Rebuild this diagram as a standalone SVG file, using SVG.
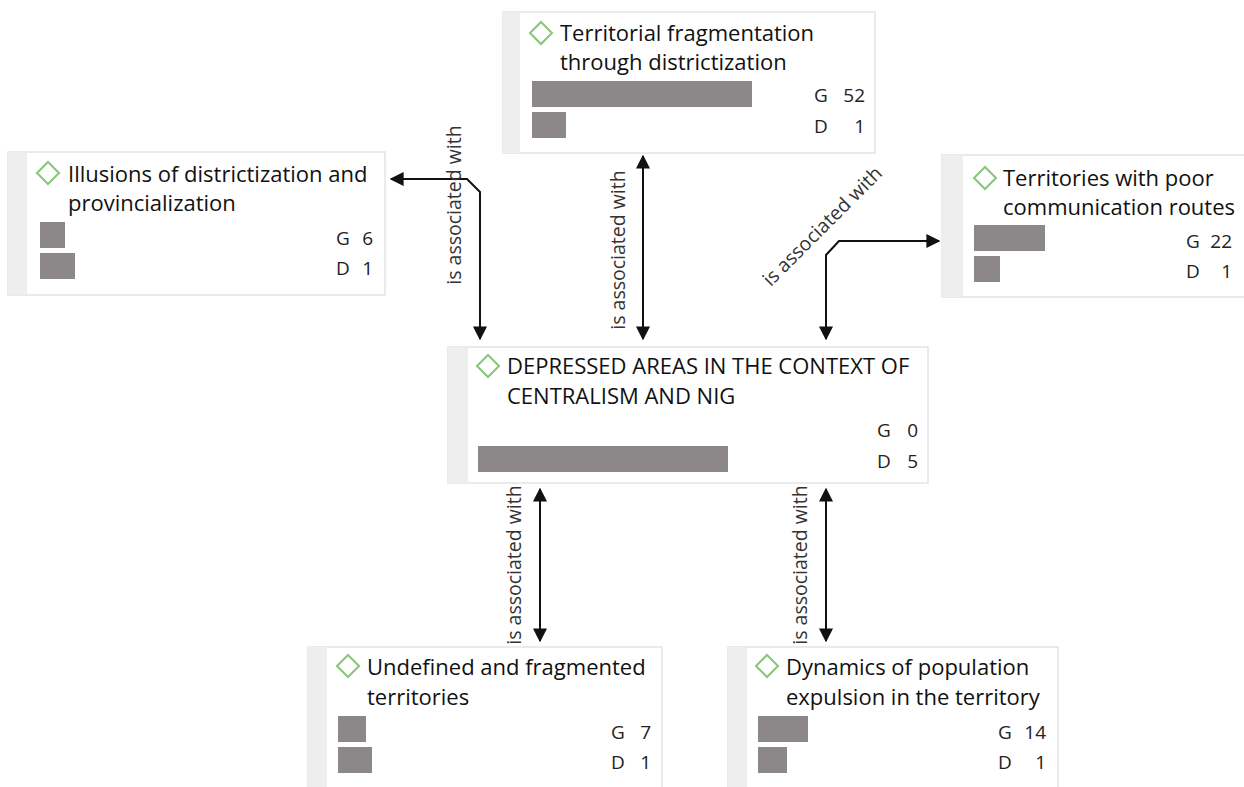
<svg xmlns="http://www.w3.org/2000/svg" width="1244" height="787" viewBox="0 0 1244 787">
<defs>
<style>
.box{fill:#ffffff;stroke:#e4e4e4;stroke-width:1.5}
.strip{fill:#eeeeee}
.dia{fill:none;stroke:#86c777;stroke-width:2}
.t{font-family:"Open Sans","Noto Sans",sans-serif;font-size:22px;fill:#111111}
.n{font-family:"Open Sans","Noto Sans",sans-serif;font-size:19px;fill:#222222}
.bar{fill:#8c8889}
.lbl{font-family:"Open Sans","Noto Sans",sans-serif;font-size:19.5px;fill:#333333;text-anchor:middle}
.con{fill:none;stroke:#111111;stroke-width:2}
</style>
<marker id="ah" viewBox="0 0 10 10" refX="9" refY="5" markerWidth="7" markerHeight="7" markerUnits="strokeWidth" orient="auto-start-reverse">
<path d="M0,0 L10,5 L0,10 z" fill="#111111"/>
</marker>
</defs>
<rect width="1244" height="787" fill="#ffffff"/>

<g id="connectors">
<path class="con" d="M480,339 V192 L467,179 H391" marker-start="url(#ah)" marker-end="url(#ah)"/>
<text class="lbl" transform="translate(461,205) rotate(-90)">is associated with</text>
<path class="con" d="M643,339 V156" marker-start="url(#ah)" marker-end="url(#ah)"/>
<text class="lbl" transform="translate(625,250) rotate(-90)">is associated with</text>
<path class="con" d="M826,339 V255 L839,241 H939" marker-start="url(#ah)" marker-end="url(#ah)"/>
<text class="lbl" transform="translate(827,231) rotate(-45)">is associated with</text>
<path class="con" d="M540,489 V641" marker-start="url(#ah)" marker-end="url(#ah)"/>
<text class="lbl" transform="translate(521,565) rotate(-90)">is associated with</text>
<path class="con" d="M826,489 V641" marker-start="url(#ah)" marker-end="url(#ah)"/>
<text class="lbl" transform="translate(807,565) rotate(-90)">is associated with</text>
</g>

<g id="node-top">
<rect class="box" x="503" y="12" width="372" height="141"/>
<rect class="strip" x="503" y="12" width="17" height="141"/>
<path class="dia" d="M541,22 L552,33 L541,44 L530,33 z"/>
<text class="t" x="560" y="41">Territorial fragmentation</text>
<text class="t" x="560" y="70">through districtization</text>
<rect class="bar" x="532" y="81" width="220" height="26"/>
<rect class="bar" x="532" y="112" width="34" height="26"/>
<text class="n" x="814" y="102">G</text>
<text class="n" x="865" y="102" text-anchor="end">52</text>
<text class="n" x="814" y="133">D</text>
<text class="n" x="865" y="133" text-anchor="end">1</text>
</g>

<g id="node-left">
<rect class="box" x="8" y="152" width="377" height="143"/>
<rect class="strip" x="8" y="152" width="19" height="143"/>
<path class="dia" d="M48,162 L59,173 L48,184 L37,173 z"/>
<text class="t" x="68" y="182">Illusions of districtization and</text>
<text class="t" x="68" y="211">provincialization</text>
<rect class="bar" x="40" y="222" width="25" height="26"/>
<rect class="bar" x="40" y="253" width="35" height="26"/>
<text class="n" x="336" y="245">G</text>
<text class="n" x="373" y="245" text-anchor="end">6</text>
<text class="n" x="336" y="275">D</text>
<text class="n" x="373" y="275" text-anchor="end">1</text>
</g>

<g id="node-right">
<rect class="box" x="942" y="155" width="310" height="142"/>
<rect class="strip" x="942" y="155" width="21" height="142"/>
<path class="dia" d="M985,167 L996,178 L985,189 L974,178 z"/>
<text class="t" x="1003" y="186">Territories with poor</text>
<text class="t" x="1003" y="215">communication routes</text>
<rect class="bar" x="974" y="225" width="71" height="26"/>
<rect class="bar" x="974" y="256" width="26" height="26"/>
<text class="n" x="1186" y="248">G</text>
<text class="n" x="1232" y="248" text-anchor="end">22</text>
<text class="n" x="1186" y="278">D</text>
<text class="n" x="1232" y="278" text-anchor="end">1</text>
</g>

<g id="node-center">
<rect class="box" x="448" y="347" width="480" height="136"/>
<rect class="strip" x="448" y="347" width="20" height="136"/>
<path class="dia" d="M488,355 L499,366 L488,377 L477,366 z"/>
<text class="t" x="507" y="374">DEPRESSED AREAS IN THE CONTEXT OF</text>
<text class="t" x="507" y="404">CENTRALISM AND NIG</text>
<rect class="bar" x="478" y="446" width="250" height="26"/>
<text class="n" x="877" y="437">G</text>
<text class="n" x="918" y="437" text-anchor="end">0</text>
<text class="n" x="877" y="468">D</text>
<text class="n" x="918" y="468" text-anchor="end">5</text>
</g>

<g id="node-bottom-left">
<rect class="box" x="308" y="647" width="354" height="145"/>
<rect class="strip" x="308" y="647" width="19" height="145"/>
<path class="dia" d="M348,655 L359,666 L348,677 L337,666 z"/>
<text class="t" x="367" y="675">Undefined and fragmented</text>
<text class="t" x="367" y="705">territories</text>
<rect class="bar" x="338" y="716" width="28" height="26"/>
<rect class="bar" x="338" y="747" width="34" height="26"/>
<text class="n" x="611" y="739">G</text>
<text class="n" x="651" y="739" text-anchor="end">7</text>
<text class="n" x="611" y="769">D</text>
<text class="n" x="651" y="769" text-anchor="end">1</text>
</g>

<g id="node-bottom-right">
<rect class="box" x="728" y="647" width="330" height="145"/>
<rect class="strip" x="728" y="647" width="19" height="145"/>
<path class="dia" d="M767,655 L778,666 L767,677 L756,666 z"/>
<text class="t" x="786" y="675">Dynamics of population</text>
<text class="t" x="786" y="705">expulsion in the territory</text>
<rect class="bar" x="758" y="716" width="50" height="26"/>
<rect class="bar" x="758" y="747" width="29" height="26"/>
<text class="n" x="998" y="739">G</text>
<text class="n" x="1046" y="739" text-anchor="end">14</text>
<text class="n" x="998" y="769">D</text>
<text class="n" x="1046" y="769" text-anchor="end">1</text>
</g>
</svg>
